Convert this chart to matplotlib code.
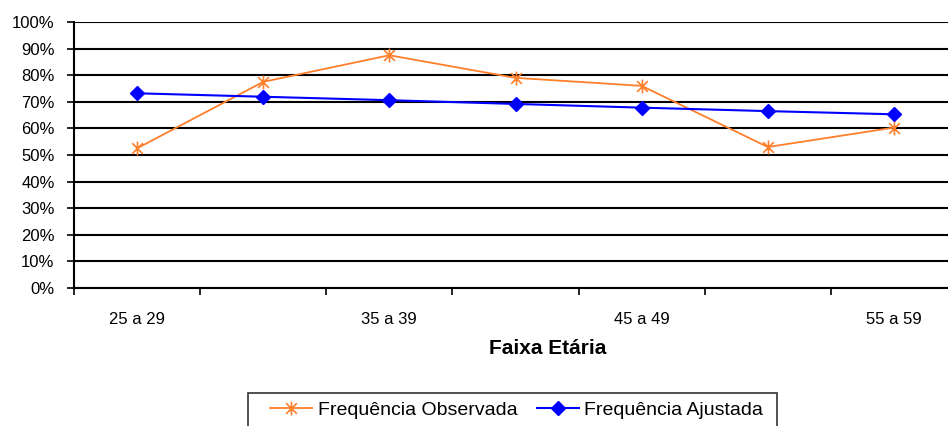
import matplotlib.pyplot as plt
from matplotlib.path import Path
from matplotlib.patches import Rectangle
from matplotlib.ticker import FixedLocator, PercentFormatter

plt.rcParams['font.family'] = ['Liberation Sans', 'DejaVu Sans']

# faixas etárias (7 categorias, só metade rotulada no eixo)
faixas = ['25 a 29', '30 a 34', '35 a 39', '40 a 44', '45 a 49', '50 a 54', '55 a 59']
rotulos = ['25 a 29', '', '35 a 39', '', '45 a 49', '', '55 a 59']

observada = [52.5, 77.5, 87.5, 79.0, 76.0, 53.0, 60.3]
ajustada = [73.2, 71.9, 70.6, 69.2, 67.8, 66.5, 65.3]

# marcador estrela do Excel (x + traço vertical)
estrela = Path([(-1, -1), (1, 1), (-1, 1), (1, -1), (0, -1.3), (0, 1.3)],
               [Path.MOVETO, Path.LINETO, Path.MOVETO, Path.LINETO, Path.MOVETO, Path.LINETO])

fig = plt.figure(figsize=(9.48, 4.26), dpi=100)
ax = fig.add_axes([74/948, 1 - 288/426, (957 - 74)/948, (288 - 22)/426])

x = list(range(len(faixas)))
ax.plot(x, observada, color='#FF7F2A', lw=1.3, marker=estrela, ms=10, mew=1.2,
        label='Frequência Observada', zorder=3)
ax.plot(x, ajustada, color='#0000FF', lw=1.5, marker='D', ms=7,
        label='Frequência Ajustada', zorder=3)

ax.set_xlim(-0.5, len(faixas) - 0.5)
ax.set_ylim(0, 100)
ax.yaxis.set_major_locator(FixedLocator(range(0, 101, 10)))
ax.yaxis.set_major_formatter(PercentFormatter(decimals=0))
ax.grid(axis='y', color='black', lw=1.5)
ax.set_axisbelow(True)

ax.set_xticks(x)
ax.set_xticklabels(rotulos)
ax.set_xticks([i - 0.5 for i in range(len(faixas) + 1)], minor=True)
ax.tick_params(axis='x', which='major', length=0, pad=17, labelsize=12)
ax.tick_params(axis='x', which='minor', length=5, width=1.2, direction='out')
ax.tick_params(axis='y', length=5, width=1.2, pad=9, labelsize=12)

for s in ['top', 'right']:
    ax.spines[s].set_visible(False)
ax.spines['left'].set_linewidth(1.5)
ax.spines['bottom'].set_linewidth(1.5)

fig.text(548/948, 1 - 349/426, 'Faixa Etária', ha='center', va='center',
         fontsize=15, fontweight='bold')

# moldura da legenda (cortada na borda de baixo, como no original)
fig.patches.append(Rectangle((248/948, -0.05), (777 - 248)/948, 0.05 + (426 - 393)/426,
                             transform=fig.transFigure, fill=False,
                             edgecolor='#333333', lw=1.2))
fig.legend(loc='center left', bbox_to_anchor=(270/948, 1 - 410/426), ncol=2,
           fontsize=14, frameon=False, handlelength=2.15, borderpad=0,
           borderaxespad=0, handletextpad=0.3, columnspacing=1.0)

fig.savefig('out.png', dpi=100)
